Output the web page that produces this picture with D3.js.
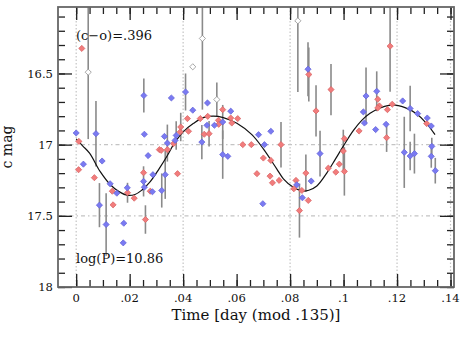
<!DOCTYPE html>
<html>
<head>
<meta charset="utf-8">
<script src="https://cdn.jsdelivr.net/npm/d3@7"></script>
<style>
  body { margin: 0; background: #fff; }
  svg { display: block; }
  .tickLabel { font-family: "DejaVu Serif", serif; font-size: 11.6px; fill: #111; }
  .rotulo { font-family: "DejaVu Serif", serif; font-size: 13px; fill: #111; }
  .tituloeixo { font-family: "DejaVu Serif", serif; font-size: 15px; fill: #111; }
</style>
</head>
<body>
<svg id="grafico"></svg>
<script>
// Dados: [fase, magnitude, meia barra de erro]
var pontosVermelhos = [
  [.0021,16.324,0],[.0010,16.977,0],[.0009,17.176,0],[.0068,17.232,0],[.0138,17.423,0],
  [.0135,17.327,0],[.0192,17.338,.07],[.0217,17.376,0],[.0252,17.197,0],[.0277,17.327,0],
  [.0311,17.035,0],[.0259,17.526,.10],[.0416,16.817,0],[.0492,16.801,0],[.0464,16.817,0],
  [.0548,16.754,0],[.0578,16.813,0],[.0604,16.817,0],[.0582,16.848,0],[.0532,16.829,0],
  [.0533,16.857,0],[.0870,16.507,.19],[.0391,16.876,.10],[.0389,16.911,0],[.0420,16.906,0],
  [.0318,17.040,0],[.0341,17.035,0],[.0364,16.993,0],[.0379,17.204,0],[.0479,16.927,0],
  [.0497,16.923,.09],[.0623,17.000,0],[.0655,17.000,0],[.0766,17.000,.16],[.0700,17.094,0],
  [.0728,17.111,0],[.0676,17.204,0],[.0725,17.221,0],[.0734,17.268,0],[.0759,17.251,0],
  [.0822,17.251,0],[.0814,17.310,0],[.0844,17.322,0],[.0859,17.200,.13],[.0835,17.463,.19],
  [.0868,17.392,0],[.0953,16.613,.18],[.0897,16.763,.18],[.1174,16.308,.32],[.1128,16.681,0],
  [.1134,16.728,0],[.1128,16.742,0],[.1164,16.754,0],[.1182,16.716,0],[.1058,16.904,0],
  [.1161,16.951,.10],[.1311,16.852,0],[.1003,16.958,0],[.0999,17.045,.15],[.0984,17.137,0],
  [.0943,17.165,0],[.0971,17.193,0],[.1003,17.188,.17]
];

var pontosAzuis = [
  [.0000,16.918,0],[.0074,16.923,.23],[.0255,16.927,0],[.0253,16.655,.12],[.0027,17.137,0],
  [.0097,17.115,0],[.0087,17.425,.155],[.0112,17.561,.22],[.0178,17.552,0],[.0127,17.275,0],
  [.0152,17.341,0],[.0191,17.303,0],[.0255,17.299,0],[.0252,17.258,.106],[.0285,17.331,0],
  [.0269,17.077,0],[.0287,17.211,0],[.0176,17.690,0],[.0409,16.630,.13],[.0356,16.672,0],
  [.0436,16.758,0],[.0491,16.707,0],[.0578,16.765,0],[.0867,16.470,.19],[.0330,16.942,0],
  [.0341,16.989,.13],[.0374,16.935,.10],[.0370,16.970,0],[.0333,17.211,.17],[.0320,17.322,.12],
  [.0470,16.982,.12],[.0489,16.864,0],[.0517,16.864,0],[.0548,16.841,.12],[.0548,17.070,.17],
  [.0567,17.082,0],[.0682,16.930,0],[.0728,16.906,0],[.0704,17.000,0],[.0698,17.415,0],
  [.0825,17.282,0],[.0846,17.373,0],[.0879,17.256,0],[.1084,16.658,.20],[.1124,16.625,.14],
  [.1074,16.770,0],[.1221,16.693,0],[.1249,16.746,.16],[.1277,16.782,0],[.1313,16.813,0],
  [.1328,16.869,0],[.1078,16.848,0],[.1120,16.894,0],[.1159,16.857,0],[.0912,17.063,.16],
  [.1227,17.054,.25],[.1249,17.080,.10],[.1265,17.063,.14],[.1330,17.012,.06],[.1328,17.082,.08],
  [.1343,17.183,.09]
];

var pontosAbertos = [
  [.0045,16.491,.47],[.0436,16.453,0],[.0472,16.254,.50],[.0526,16.683,.12],[.0829,16.130,.50]
];

// Curva ajustada: [fase, magnitude]
var curvaAjuste = [
  [0,16.96],[.0025,17.01],[.005,17.06],[.009,17.19],[.0127,17.28],[.016,17.33],[.019,17.355],
  [.022,17.35],[.0245,17.32],[.0277,17.26],[.031,17.17],[.034,17.08],[.0364,17.00],[.040,16.91],
  [.0439,16.85],[.0475,16.81],[.0513,16.80],[.055,16.81],[.0601,16.85],[.0657,16.93],[.070,17.03],
  [.075,17.17],[.0775,17.24],[.0812,17.30],[.0844,17.325],[.087,17.32],[.090,17.29],[.0937,17.20],
  [.097,17.10],[.0999,17.01],[.1037,16.90],[.1068,16.83],[.1099,16.78],[.114,16.74],[.1185,16.72],
  [.123,16.74],[.127,16.78],[.131,16.85],[.1342,16.93]
];

var ticksX = [0, .02, .04, .06, .08, .1, .12, .14];
var ticksXMenores = d3.range(0, 0.1401, 0.005);
var ticksY = [16.5, 17, 17.5, 18];
var ticksYMenores = d3.range(16.1, 18.001, 0.1);
var gradeX = [0, .04, .08, .12, .14];
var gradeY = [17, 17.5];

var largura = 462, altura = 346;
var margem = { esquerda: 58, direita: 8, superior: 7, inferior: 59 };

var svg = d3.select('#grafico').attr('width', largura).attr('height', altura);

var x = d3.scaleLinear().domain([-0.0068, 0.1413]).range([margem.esquerda, largura - margem.direita]);
var y = d3.scaleLinear().domain([16.033, 18.0]).range([margem.superior, altura - margem.inferior]);

svg.append('clipPath').attr('id', 'recorte').append('rect')
   .attr('x', x.range()[0]).attr('y', y.range()[0])
   .attr('width', x.range()[1] - x.range()[0]).attr('height', y.range()[1] - y.range()[0]);

//Linhas de grade
svg.append('g').selectAll('line').data(gradeX).enter().append('line')
   .attr('x1', d => x(d)).attr('x2', d => x(d))
   .attr('y1', y.range()[0]).attr('y2', y.range()[1])
   .attr('stroke', '#c4c4c4').attr('stroke-width', 1.2).attr('stroke-dasharray', '1.5,2');
svg.append('g').selectAll('line').data(gradeY).enter().append('line')
   .attr('x1', x.range()[0]).attr('x2', x.range()[1])
   .attr('y1', d => y(d)).attr('y2', d => y(d))
   .attr('stroke', '#c4c4c4').attr('stroke-width', 1.2).attr('stroke-dasharray', '4,3,1.5,3');

var plotagem = svg.append('g').attr('clip-path', 'url(#recorte)');

//Barras de erro
var todos = pontosVermelhos.concat(pontosAzuis, pontosAbertos).filter(d => d[2] > 0);
plotagem.selectAll('.erro').data(todos).enter().append('line')
   .classed('erro', true)
   .attr('x1', d => x(d[0])).attr('x2', d => x(d[0]))
   .attr('y1', d => y(d[1] - d[2])).attr('y2', d => y(d[1] + d[2]))
   .attr('stroke', '#8a8a8a').attr('stroke-width', 1.6);

//Curva
plotagem.append('path').datum(curvaAjuste)
   .attr('d', d3.line().x(d => x(d[0])).y(d => y(d[1])).curve(d3.curveCatmullRom))
   .attr('fill', 'none').attr('stroke', '#111').attr('stroke-width', 1.2);

//Pontos
var losango = d3.symbol().type(d3.symbolSquare).size(19);
function desenhePontos(dados, preenchimento, contorno) {
  plotagem.append('g').selectAll('path').data(dados).enter().append('path')
     .attr('d', losango)
     .attr('transform', d => 'translate(' + x(d[0]) + ',' + y(d[1]) + ') rotate(45)')
     .attr('fill', preenchimento).attr('stroke', contorno).attr('stroke-width', 0.7);
}
desenhePontos(pontosAbertos, '#fff', '#8a8a8a');
desenhePontos(pontosVermelhos, '#f27c7c', '#d86464');
desenhePontos(pontosAzuis, '#7a7af2', '#6262d8');

//Eixos
var formatoX = d => d === 0 ? '0' : String(+d.toFixed(3)).replace(/^0/, '');
function eixo(gerador, transf, valores, tamanho) {
  var g = svg.append('g').attr('transform', transf)
     .call(gerador.tickValues(valores).tickSize(tamanho).tickFormat(''));
  g.select('.domain').remove();
  g.selectAll('line').attr('stroke', '#222').attr('stroke-width', 1.3);
}
var base = y.range()[1], topo = y.range()[0], esq = x.range()[0], dir = x.range()[1];
eixo(d3.axisBottom(x), 'translate(0,' + base + ')', ticksXMenores, -7);
eixo(d3.axisBottom(x), 'translate(0,' + base + ')', ticksX, -13);
eixo(d3.axisTop(x), 'translate(0,' + topo + ')', ticksXMenores, -7);
eixo(d3.axisTop(x), 'translate(0,' + topo + ')', ticksX, -13);
eixo(d3.axisLeft(y), 'translate(' + esq + ',0)', ticksYMenores, -7);
eixo(d3.axisLeft(y), 'translate(' + esq + ',0)', ticksY, -14);
eixo(d3.axisRight(y), 'translate(' + dir + ',0)', ticksYMenores, -7);
eixo(d3.axisRight(y), 'translate(' + dir + ',0)', ticksY, -14);

svg.append('rect')
   .attr('x', esq).attr('y', topo).attr('width', dir - esq).attr('height', base - topo)
   .attr('fill', 'none').attr('stroke', '#666').attr('stroke-width', 1.8);

//Rótulos dos ticks
svg.append('g').selectAll('text').data(ticksX).enter().append('text')
   .classed('tickLabel', true)
   .attr('x', d => x(d)).attr('y', base + 15)
   .attr('text-anchor', 'middle')
   .text(formatoX);
svg.append('g').selectAll('text').data(ticksY).enter().append('text')
   .classed('tickLabel', true)
   .attr('x', esq - 5).attr('y', d => y(d)).attr('dy', '0.36em')
   .attr('text-anchor', 'end')
   .text(d => String(d));

//Títulos dos eixos
svg.append('text').classed('tituloeixo', true)
   .attr('x', 256).attr('y', 320).attr('text-anchor', 'middle')
   .text('Time [day (mod .135)]');
svg.append('text').classed('tituloeixo', true)
   .attr('transform', 'translate(12,' + ((topo + base) / 2) + ') rotate(-90)')
   .attr('text-anchor', 'middle').style('font-size', '14px')
   .text('c mag');

//Anotações
svg.append('text').classed('rotulo', true).attr('x', 76).attr('y', 40).text('(c\u2212o)=.396');
svg.append('text').classed('rotulo', true).attr('x', 76).attr('y', 263).text('log(P)=10.86');
</script>
</body>
</html>
